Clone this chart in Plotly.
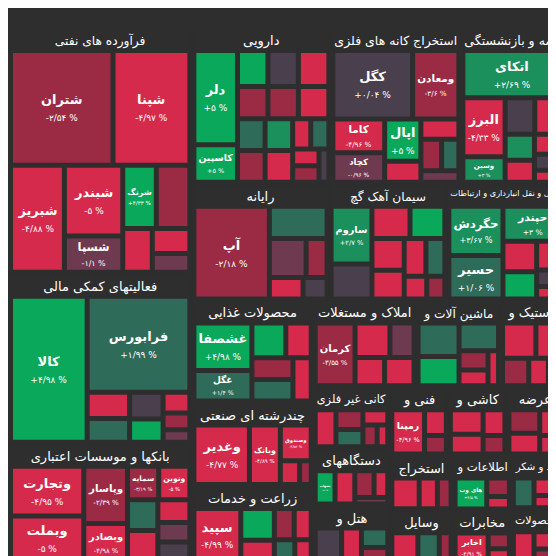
import plotly.graph_objects as go

# sector, symbol, change %, size
sector_names = ["فرآورده های نفتی", "فعالیتهای کمکی مالی", "محصولات غذایی", "دارویی",
                "استخراج کانه های فلزی", "حمل و نقل انبارداری و ارتباطات", "املاک و مستغلات",
                "بانکها و موسسات اعتباری", "بیمه و بازنشستگی", "رایانه", "سیمان آهک گچ",
                "چندرشته ای صنعتی", "زراعت و خدمات", "ماشین آلات و", "دستگاههای",
                "لاستیک و", "فنی و", "کانی غیر فلزی", "هتل و", "مخابرات", "استخراج",
                "کاشی و", "وسایل", "عرضه", "اطلاعات و", "قند و شکر", "محصولات"]

stock_sector = [0,0,0,0,0,0,0,0,0,0,
                1,1,1,1,1,1,1,1,1,
                2,2,2,2,2,2,2,
                3,3,3,3,3,3,3,3,3,3,3,3,3,3,3,3,3,
                4,4,4,4,4,4,4,4,4,4,
                5,5,5,5,5,5,5,5,
                6,6,6,6,6,
                7,7,7,7,7,7,7,7,7,7,7,
                8,8,8,8,8,8,8,8,8,8,
                9,9,9,9,9,9,
                10,10,10,10,10,10,10,10,10,10,
                11,11,11,11,11,
                12,12,12,12,12,12,12,
                13,13,13,13,13,13,
                14,14,14,14,14,
                15,15,15,15,15,
                16,16,16,
                17,17,17,17,17,17,
                18,18,18,18,
                19,19,19,
                20,20,20,
                21,21,21,21,
                22,22,22,
                23,23,23,23,
                24,24,24,
                25,25,25,
                26,26,26]
stock_name = ["شتران","شپنا","شبریز","شبندر","شسپا","شرنگ","","","","",
              "کالا","فرابورس","","","","","","","",
              "غشصفا","غگل","","","","","",
              "دلر","کاسپین","","","","","","","","","","","","","","","",
              "کگل","ومعادن","کاما","کچاد","اپال","","","","","",
              "حگردش","حسیر","حپندر","","","","","",
              "کرمان","","","","",
              "وتجارت","وپاسار","وبصادر","وبملت","سمایه","ونوین","","","","","",
              "اتکای","البرز","وسین","","","","","","","",
              "آپ","","","","","",
              "ساروم","","","","","","","","","",
              "وغدیر","وبانک","وصندوق","","",
              "سپید","","","","","","",
              "","","","","","",
              "بشهاب","","","","",
              "","","","","",
              "رمپنا","","",
              "","","","","","",
              "","","","",
              "اخابر","","",
              "","","",
              "","","","",
              "","","",
              "","","","",
              "های وب","","",
              "","","",
              "","",""]
stock_change = [-2.54,-4.97,-4.88,-5,-1.1,4.33,-3,-4.5,-4.8,-1,
                4.98,1.99,-4.5,1.5,0,4.5,-4.6,-3,-1,
                4.98,1.4,4.5,-4.5,-3,1.5,-4.7,
                5,5,4.2,0,-4.6,-3,-3,-4.8,1.6,-3,4,-4.6,-4.5,1.5,-4.7,-2.8,-0.3,
                0.04,-3.6,-4.96,-0.96,5,-4.8,-4.7,-3,1.5,-1,
                3.67,1.06,3,4.5,-4.6,-4.7,0,-4.5,
                -3.55,-1.2,-4.6,-4.7,-4.8,
                -4.95,-2.39,-4.98,-5,-3.19,-5,1.5,-4.6,-4.7,-1,0,
                2.69,-4.33,3,0,-4.6,3.2,-4.6,-4.7,0,-4.5,
                -2.18,1.5,-1.2,-3,-4.6,0,
                2.7,0,-4.6,4.5,-4.7,-4.8,-4.6,1.8,-4.5,-3,
                -4.77,-4.89,-4.52,-4.7,-3,
                -4.99,4.5,-4.6,-3,-4.7,1.5,-4.8,
                1.6,4.5,1.7,-3,-4.6,-4.7,
                5,-4.7,-3,-4.6,-1,
                -4.6,-4.7,-3,-4.5,-4.8,
                -4.96,-4.6,-3,
                -4.7,-3,1.5,-4.6,-3,-4.8,
                0,-4.6,1.5,-3,
                -4.91,-3,-4.6,
                -4.7,-4.6,-3,
                -4.7,-4.6,-4.8,-3,
                -4.6,1.5,-3,
                -3,-4.7,-4.6,-4.8,
                4.5,-3,-4.6,
                1.5,-4.7,-4.6,
                -4.7,-4.6,-3]
stock_size = [10000,7500,4900,3500,1800,1800,1800,1100,800,600,
              10000,8800,1000,900,800,700,500,400,300,
              2800,1800,1200,900,900,900,800,
              3750,1500,1000,1000,1000,900,900,900,800,800,800,800,500,500,400,400,300,
              5000,2900,1600,1400,1400,700,700,600,500,400,
              2600,2300,2000,900,1000,700,400,300,
              2700,900,900,900,1300,
              3500,2400,1600,3200,1000,1000,900,900,700,600,600,
              4300,2300,1000,1000,900,700,600,500,400,300,
              6800,1800,1400,800,700,500,
              2300,1400,1200,1100,1000,900,800,700,500,400,
              3600,2000,1200,500,300,
              2800,1200,800,700,600,500,400,
              1500,1300,1200,600,500,400,
              900,900,700,500,300,
              1300,1000,800,600,400,
              1800,700,500,
              1000,700,600,500,400,300,
              1200,900,700,500,
              1400,500,400,
              1200,800,600,
              1000,800,700,500,
              1100,900,500,
              900,800,700,500,
              1400,600,400,
              900,700,500,
              900,700,500]

PERSIAN = str.maketrans("0123456789.", "۰۱۲۳۴۵۶۷۸۹/")

def fa(v):
    s = ("{:+.2f}".format(v)).rstrip("0").rstrip(".")
    return s.translate(PERSIAN) + " %"

def color(v):
    if v >= 4.2: return "#0aa85b"
    if v >= 2.5: return "#1b8f5c"
    if v >= 1: return "#2e6b58"
    if v >= -0.5: return "#4a3f4c"
    if v >= -2: return "#6e3a50"
    if v >= -4: return "#9b2a44"
    return "#d52a4b"

BG = "#2e2e2e"
ids, labels, parents, values, colors, texts = [], [], [], [], [], []
sec_tot = [0]*len(sector_names)
for s, z in zip(stock_sector, stock_size): sec_tot[s] += z
for i, n in enumerate(sector_names):
    ids.append("s%d" % i); labels.append(n); parents.append(""); values.append(sec_tot[i]); colors.append(BG)
    texts.append("<b>%s</b>" % n)
for k, (s, n, c, z) in enumerate(zip(stock_sector, stock_name, stock_change, stock_size)):
    ids.append("t%d" % k); labels.append(n if n else " "); parents.append("s%d" % s); values.append(z)
    colors.append(color(c))
    texts.append("<b>%s</b><br><span style='font-size:9px'>%s</span>" % (n, fa(c)) if n else "")

fig = go.Figure(go.Treemap(
    ids=ids, labels=labels, parents=parents, values=values, branchvalues="total",
    text=texts, texttemplate="%{text}", textposition="middle center",
    marker=dict(colors=colors, line=dict(color=BG, width=2), pad=dict(t=22, l=2, r=2, b=2)),
    textfont=dict(family="DejaVu Sans", size=13, color="white"),
    insidetextfont=dict(family="DejaVu Sans", size=13, color="white"),
    outsidetextfont=dict(family="DejaVu Sans", size=13, color="white"),
    tiling=dict(packing="squarify", pad=3), pathbar=dict(visible=False),
    hoverinfo="skip", sort=True,
))
fig.update_layout(width=556, height=556, margin=dict(l=0, r=0, t=0, b=0),
                  paper_bgcolor=BG, plot_bgcolor=BG)
fig.write_html("out.html")
